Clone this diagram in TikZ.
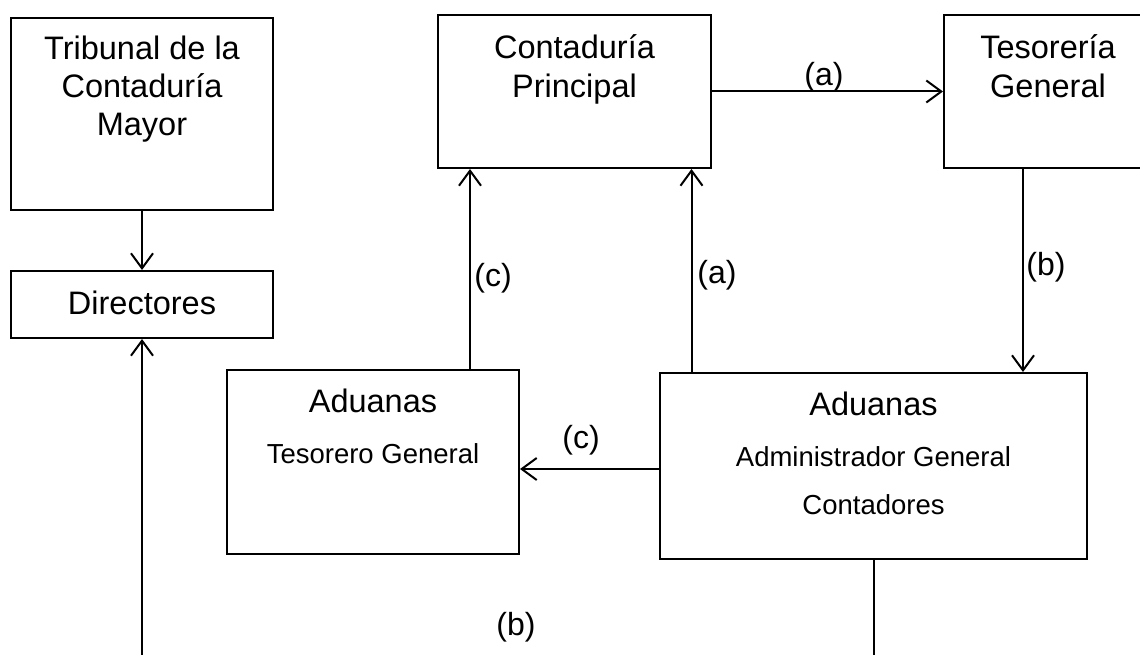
\documentclass[tikz,border=0pt]{standalone}
\usepackage{fontspec}
\setmainfont{Liberation Sans}
\usetikzlibrary{arrows.meta}
\begin{document}
\begin{tikzpicture}[x=1pt,y=-1pt,
  box/.style={draw, line width=2pt, inner sep=0pt},
  big/.style={font=\fontsize{32.5}{39}\selectfont, anchor=base, inner sep=0pt},
  sml/.style={font=\fontsize{27.5}{33}\selectfont, anchor=base, inner sep=0pt},
  lbl/.style={font=\fontsize{32}{38}\selectfont, inner sep=0pt},
  arr/.style={line width=2pt, -{Straight Barb[length=15pt,width=22pt]}}]
\useasboundingbox[fill=white] (0,0) rectangle (1140,655);
% boxes
\node[box, minimum width=262pt, minimum height=192pt] (trib) at (142,114) {};
\node[big] (trib1) at (142,60) {Tribunal de la};
\node[big] (trib2) at (142,98) {Contaduría};
\node[big] (trib3) at (142,136) {Mayor};
\node[box, minimum width=262pt, minimum height=67pt] (dir) at (142,304.5) {};
\node[big] (dirt) at (142,314.5) {Directores};
\node[box, minimum width=273pt, minimum height=153pt] (cont) at (574.5,91.5) {};
\node[big] (cont1) at (574.5,58.5) {Contaduría};
\node[big] (cont2) at (574.5,98) {Principal};
\node[box, minimum width=208pt, minimum height=153pt] (tes) at (1048,91.5) {};
\node[big] (tes1) at (1048,58.5) {Tesorería};
\node[big] (tes2) at (1048,98) {General};
\node[box, minimum width=292pt, minimum height=184pt] (tg) at (373,462) {};
\node[big] (tg1) at (373,412.5) {Aduanas};
\node[sml] (tg2) at (373,463) {Tesorero General};
\node[box, minimum width=427pt, minimum height=186pt] (adm) at (873.5,466) {};
\node[big] (adm1) at (873.5,415.5) {Aduanas};
\node[sml] (adm2) at (873.5,466) {Administrador General};
\node[sml] (adm3) at (873.5,514) {Contadores};
% connectors
\draw[arr] (trib.south) -- (dir.north);
\draw[arr] (cont.east) -- (tes.west);
\draw[arr] ([xshift=-25pt]tes.south) -- ([xshift=-25pt]tes.south |- adm.north);
\draw[arr] ([xshift=97pt]tg.north) -- ([xshift=97pt]tg.north |- cont.south);
\draw[arr] ([xshift=-182pt]adm.north) -- ([xshift=-182pt]adm.north |- cont.south);
\draw[arr] ([yshift=-3pt]adm.west) -- ([yshift=-3pt]adm.west -| tg.east);
\coordinate (bend) at (873.5,700);
\draw[arr] (adm.south) -- (bend) -| (dir.south);
% labels
\node[lbl] (la1) at (824,77.5) {(a)};
\node[lbl] (lb1) at (1046,267) {(b)};
\node[lbl] (lc1) at (493,278) {(c)};
\node[lbl] (la2) at (717,275) {(a)};
\node[lbl] (lc2) at (581,440) {(c)};
\node[lbl] (lb2) at (516,627) {(b)};
\end{tikzpicture}
\end{document}
